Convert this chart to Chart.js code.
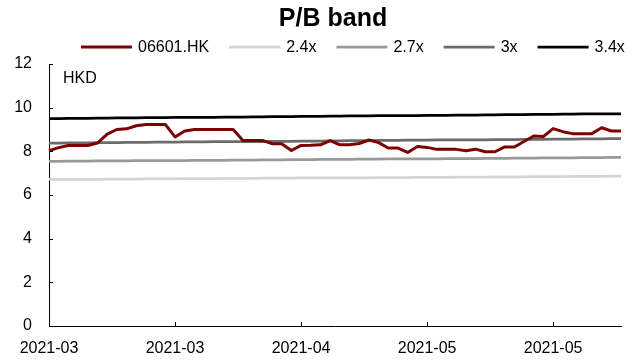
<!DOCTYPE html>
<html>
<head>
<meta charset="utf-8">
<script src="https://cdn.jsdelivr.net/npm/chart.js@4/dist/chart.umd.min.js"></script>
<style>
  html, body { margin: 0; padding: 0; background: #fff; }
  canvas { display: block; }
</style>
</head>
<body>
<canvas id="chart" width="633" height="360"></canvas>
<script>
// Trading days shown on the category axis
const dates = [
  '2021-03-08','2021-03-09','2021-03-10','2021-03-11','2021-03-12',
  '2021-03-15','2021-03-16','2021-03-17','2021-03-18','2021-03-19',
  '2021-03-22','2021-03-23','2021-03-24','2021-03-25','2021-03-26',
  '2021-03-29','2021-03-30','2021-03-31','2021-04-01','2021-04-07',
  '2021-04-08','2021-04-09','2021-04-12','2021-04-13','2021-04-14',
  '2021-04-15','2021-04-16','2021-04-19','2021-04-20','2021-04-21',
  '2021-04-22','2021-04-23','2021-04-26','2021-04-27','2021-04-28',
  '2021-04-29','2021-04-30','2021-05-03','2021-05-04','2021-05-05',
  '2021-05-06','2021-05-07','2021-05-10','2021-05-11','2021-05-12',
  '2021-05-13','2021-05-14','2021-05-17','2021-05-18','2021-05-20',
  '2021-05-21','2021-05-24','2021-05-25','2021-05-26','2021-05-27',
  '2021-05-28','2021-05-31','2021-06-01','2021-06-02','2021-06-03'
];

// Closing price, HKD
const closePrice = [
  8.03, 8.17, 8.27, 8.27, 8.27, 8.38, 8.79, 9.00, 9.03, 9.17,
  9.23, 9.23, 9.23, 8.66, 8.93, 9.00, 9.00, 9.00, 9.00, 9.00,
  8.50, 8.50, 8.50, 8.35, 8.35, 8.04, 8.27, 8.28, 8.30, 8.49,
  8.30, 8.30, 8.36, 8.52, 8.40, 8.15, 8.15, 7.95, 8.22, 8.18,
  8.09, 8.09, 8.09, 8.03, 8.10, 7.98, 7.98, 8.20, 8.20, 8.45,
  8.70, 8.68, 9.04, 8.90, 8.81, 8.81, 8.81, 9.08, 8.93, 8.93
];

// Price levels at fixed P/B multiples
const band24 = [
  6.71, 6.71, 6.72, 6.72, 6.72, 6.72, 6.73, 6.73, 6.73, 6.73,
  6.74, 6.74, 6.74, 6.74, 6.75, 6.75, 6.75, 6.75, 6.76, 6.76,
  6.76, 6.76, 6.77, 6.77, 6.77, 6.77, 6.78, 6.78, 6.78, 6.78,
  6.79, 6.79, 6.79, 6.79, 6.80, 6.80, 6.80, 6.80, 6.81, 6.81,
  6.81, 6.81, 6.82, 6.82, 6.82, 6.82, 6.83, 6.83, 6.83, 6.83,
  6.84, 6.84, 6.84, 6.84, 6.85, 6.85, 6.85, 6.85, 6.86, 6.86
];
const band27 = [
  7.54, 7.54, 7.55, 7.55, 7.55, 7.56, 7.56, 7.56, 7.56, 7.57,
  7.57, 7.57, 7.58, 7.58, 7.58, 7.59, 7.59, 7.59, 7.59, 7.60,
  7.60, 7.60, 7.61, 7.61, 7.61, 7.62, 7.62, 7.62, 7.63, 7.63,
  7.63, 7.63, 7.64, 7.64, 7.64, 7.65, 7.65, 7.65, 7.66, 7.66,
  7.66, 7.67, 7.67, 7.67, 7.67, 7.68, 7.68, 7.68, 7.69, 7.69,
  7.69, 7.70, 7.70, 7.70, 7.70, 7.71, 7.71, 7.71, 7.72, 7.72
];
const band30 = [
  8.38, 8.38, 8.39, 8.39, 8.39, 8.40, 8.40, 8.40, 8.41, 8.41,
  8.41, 8.42, 8.42, 8.42, 8.43, 8.43, 8.43, 8.44, 8.44, 8.44,
  8.45, 8.45, 8.45, 8.46, 8.46, 8.46, 8.47, 8.47, 8.47, 8.48,
  8.48, 8.49, 8.49, 8.49, 8.50, 8.50, 8.50, 8.51, 8.51, 8.51,
  8.52, 8.52, 8.52, 8.53, 8.53, 8.53, 8.54, 8.54, 8.54, 8.55,
  8.55, 8.55, 8.56, 8.56, 8.56, 8.57, 8.57, 8.57, 8.58, 8.58
];
const band34 = [
  9.50, 9.50, 9.51, 9.51, 9.51, 9.52, 9.52, 9.53, 9.53, 9.53,
  9.54, 9.54, 9.54, 9.55, 9.55, 9.56, 9.56, 9.56, 9.57, 9.57,
  9.57, 9.58, 9.58, 9.59, 9.59, 9.59, 9.60, 9.60, 9.60, 9.61,
  9.61, 9.62, 9.62, 9.62, 9.63, 9.63, 9.63, 9.64, 9.64, 9.65,
  9.65, 9.65, 9.66, 9.66, 9.66, 9.67, 9.67, 9.68, 9.68, 9.68,
  9.69, 9.69, 9.69, 9.70, 9.70, 9.71, 9.71, 9.71, 9.72, 9.72
];

const seriesNames = ['06601.HK', '2.4x', '2.7x', '3x', '3.4x'];
const titleText = 'P/B band';
const unitText = 'HKD';
const yTickValues = [0, 2, 4, 6, 8, 10, 12];
const labelEvery = 13;

const FONT = '"Liberation Sans", Arial, Helvetica, sans-serif';

function lineSet(label, data, color, width) {
  return {
    label, data,
    borderColor: color, backgroundColor: color,
    borderWidth: width, pointRadius: 0, pointHoverRadius: 0,
    tension: 0, fill: false, borderJoinStyle: 'round', borderCapStyle: 'butt'
  };
}

// Title, legend, unit label and inward tick marks
const decorations = {
  id: 'decorations',
  afterDraw(chart) {
    const { ctx, chartArea, scales } = chart;
    ctx.save();
    ctx.fillStyle = '#000';
    ctx.textBaseline = 'middle';

    ctx.font = 'bold 25px ' + FONT;
    ctx.textAlign = 'center';
    ctx.fillText(titleText, 333, 19);

    ctx.font = '16px ' + FONT;
    ctx.textAlign = 'left';
    let x = 81;
    const ly = 47;
    chart.data.datasets.forEach(ds => {
      ctx.strokeStyle = ds.borderColor;
      ctx.lineWidth = ds.borderWidth;
      ctx.beginPath();
      ctx.moveTo(x, ly);
      ctx.lineTo(x + 51, ly);
      ctx.stroke();
      x += 51 + 6;
      ctx.fillText(ds.label, x, ly + 1);
      x += ctx.measureText(ds.label).width + 20;
    });

    ctx.fillText(unitText, 63, 79);

    ctx.strokeStyle = '#000';
    ctx.lineWidth = 1;
    const ys = scales.y;
    yTickValues.forEach(v => {
      const py = Math.round(ys.getPixelForValue(v)) + 0.5;
      ctx.beginPath();
      ctx.moveTo(chartArea.left, py);
      ctx.lineTo(chartArea.left + 4, py);
      ctx.stroke();
    });
    const xs = scales.x;
    dates.forEach((d, i) => {
      if (i % labelEvery !== 0) return;
      const px = Math.round(xs.getPixelForValue(i)) + 0.5;
      ctx.beginPath();
      ctx.moveTo(px, chartArea.bottom);
      ctx.lineTo(px, chartArea.bottom - 4);
      ctx.stroke();
    });
    ctx.restore();
  }
};

new Chart(document.getElementById('chart'), {
  type: 'line',
  data: {
    labels: dates,
    datasets: [
      lineSet(seriesNames[0], closePrice, '#7f0000', 3),
      lineSet(seriesNames[1], band24, '#d4d4d4', 2.75),
      lineSet(seriesNames[2], band27, '#999999', 2.75),
      lineSet(seriesNames[3], band30, '#6b6b6b', 2.75),
      lineSet(seriesNames[4], band34, '#000000', 2.75)
    ]
  },
  options: {
    responsive: false,
    devicePixelRatio: 1,
    animation: false,
    events: [],
    layout: { padding: { top: 64, right: 12, bottom: 0, left: 0 } },
    plugins: {
      legend: { display: false },
      title: { display: false },
      tooltip: { enabled: false }
    },
    scales: {
      x: {
        type: 'category',
        offset: false,
        grid: { display: false, drawTicks: false },
        border: { display: true, color: '#000', width: 1 },
        ticks: {
          autoSkip: false, maxRotation: 0, minRotation: 0,
          padding: 13, color: '#000',
          font: { family: FONT, size: 16 },
          callback: (v, i) => (i % labelEvery === 0 ? dates[i].slice(0, 7) : null)
        },
        afterFit(scale) {
          scale.height = 34;
          scale.paddingLeft = 0;
          scale.paddingRight = 0;
        }
      },
      y: {
        min: 0, max: 12,
        grid: { display: false, drawTicks: false },
        border: { display: true, color: '#000', width: 1 },
        ticks: {
          stepSize: 2, padding: 17, color: '#000',
          font: { family: FONT, size: 16 }
        },
        afterFit(scale) {
          scale.width = 49;
        }
      }
    }
  },
  plugins: [decorations]
});
</script>
</body>
</html>
